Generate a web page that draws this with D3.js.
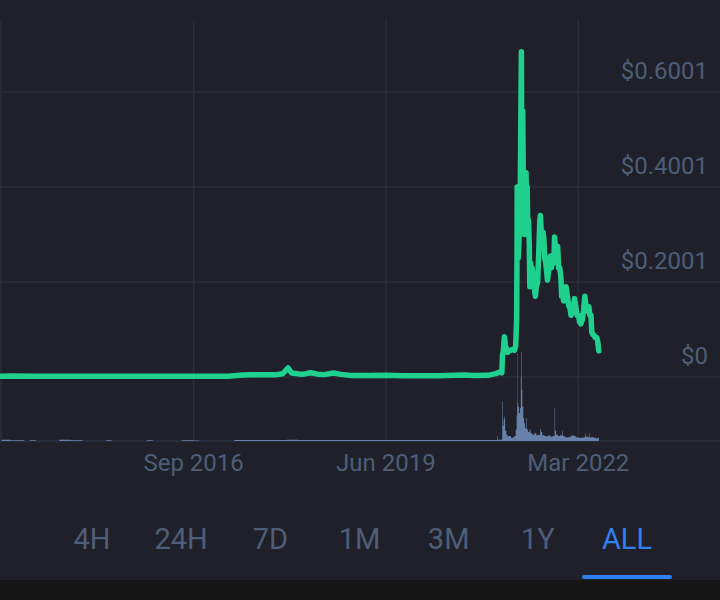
<!DOCTYPE html>
<html>
<head>
<meta charset="utf-8">
<script src="https://cdn.jsdelivr.net/npm/d3@7"></script>
<style>
  body { margin: 0; background: #1f2029; }
  svg { display: block; font-family: Roboto, "Noto Sans", sans-serif; }
</style>
</head>
<body>
<svg></svg>
<script>
		// price history (USD) and traded volume (B USD)
		var priceDates = ["2013-11-26", "2014-02-01", "2014-06-01", "2014-12-01", "2015-06-01", "2015-12-01",
		                  "2016-06-01", "2016-12-01", "2017-03-01", "2017-05-15", "2017-07-01", "2017-09-01",
		                  "2017-11-01", "2017-12-10", "2018-01-07", "2018-01-25", "2018-02-15", "2018-03-10",
		                  "2018-04-05", "2018-05-05", "2018-06-10", "2018-07-15", "2018-09-01", "2018-10-10",
		                  "2018-12-01", "2019-03-01", "2019-06-01", "2019-09-01", "2019-12-01", "2020-03-01",
		                  "2020-07-10", "2020-09-01", "2020-11-15", "2020-12-25", "2021-01-10", "2021-01-26",
		                  "2021-01-29", "2021-02-03", "2021-02-08", "2021-02-14", "2021-02-25", "2021-03-10",
		                  "2021-03-22", "2021-04-01", "2021-04-08", "2021-04-13", "2021-04-15", "2021-04-16",
		                  "2021-04-17", "2021-04-18", "2021-04-21", "2021-04-24", "2021-04-28", "2021-05-02",
		                  "2021-05-05", "2021-05-08", "2021-05-10", "2021-05-12", "2021-05-15", "2021-05-19",
		                  "2021-05-21", "2021-05-23", "2021-05-27", "2021-06-01", "2021-06-03", "2021-06-05",
		                  "2021-06-07", "2021-06-10", "2021-06-14", "2021-06-18", "2021-06-21",
		                  "2021-06-25", "2021-06-28", "2021-07-03", "2021-07-08", "2021-07-13", "2021-07-20",
		                  "2021-07-25", "2021-08-01", "2021-08-07", "2021-08-12", "2021-08-15", "2021-08-20",
		                  "2021-08-24", "2021-08-29", "2021-09-02", "2021-09-07", "2021-09-12", "2021-09-17",
		                  "2021-09-21", "2021-09-26", "2021-10-01", "2021-10-06", "2021-10-12", "2021-10-18",
		                  "2021-10-24", "2021-10-28", "2021-11-02", "2021-11-08", "2021-11-13", "2021-11-18",
		                  "2021-11-24", "2021-11-30", "2021-12-04", "2021-12-09", "2021-12-14", "2021-12-20",
		                  "2021-12-27", "2022-01-03", "2022-01-10", "2022-01-16", "2022-01-22", "2022-01-28",
		                  "2022-02-04", "2022-02-09", "2022-02-15", "2022-02-22", "2022-03-01", "2022-03-08",
		                  "2022-03-14", "2022-03-22", "2022-03-28", "2022-04-04", "2022-04-10", "2022-04-16",
		                  "2022-04-21", "2022-04-25", "2022-04-30", "2022-05-06", "2022-05-10", "2022-05-15",
		                  "2022-05-22", "2022-05-28", "2022-06-05", "2022-06-10", "2022-06-14", "2022-06-16"];
		var priceValues = [0.0015, 0.0020, 0.0018, 0.0016, 0.0015, 0.0016,
		                   0.0016, 0.0017, 0.0018, 0.0040, 0.0045, 0.0050,
		                   0.0045, 0.0070, 0.0190, 0.0085, 0.0075, 0.0060,
		                   0.0065, 0.0090, 0.0060, 0.0050, 0.0085, 0.0055,
		                   0.0030, 0.0030, 0.0035, 0.0028, 0.0025, 0.0025,
		                   0.0040, 0.0030, 0.0035, 0.0070, 0.0100, 0.0090,
		                   0.0450, 0.0550, 0.0850, 0.0650, 0.0520, 0.0560,
		                   0.0580, 0.0560, 0.0650, 0.1200, 0.2500, 0.4000,
		                   0.3600, 0.2800, 0.2500, 0.2700, 0.3200, 0.3800,
		                   0.5500, 0.6850, 0.4200, 0.5000, 0.5600, 0.3600,
		                   0.4000, 0.3000, 0.3300, 0.4300, 0.3900, 0.3600,
		                   0.4000, 0.3200, 0.3300, 0.2800, 0.1900,
		                   0.2400, 0.2000, 0.2300, 0.2100, 0.1900, 0.1700,
		                   0.1900, 0.2000, 0.2700, 0.3300, 0.3400, 0.3000,
		                   0.2800, 0.3050, 0.2900, 0.2500, 0.2400, 0.2200,
		                   0.2040, 0.2200, 0.2300, 0.2550, 0.2300, 0.2500,
		                   0.2400, 0.2950, 0.2700, 0.2700, 0.2750, 0.2300,
		                   0.2300, 0.2100, 0.1700, 0.1800, 0.1600, 0.1700,
		                   0.1900, 0.1700, 0.1500, 0.1450, 0.1300, 0.1400,
		                   0.1500, 0.1650, 0.1500, 0.1300, 0.1300, 0.1150,
		                   0.1120, 0.1200, 0.1400, 0.1700, 0.1500, 0.1400,
		                   0.1380, 0.1480, 0.1300, 0.1300, 0.0950, 0.0900,
		                   0.0880, 0.0830, 0.0830, 0.0750, 0.0600, 0.0550];

		var volumeDates = ["2013-12-05", "2014-01-20", "2014-04-01", "2014-05-01", "2014-06-01", "2014-10-01",
		                   "2014-12-01", "2015-02-01", "2015-06-01", "2015-07-01", "2016-01-01", "2016-02-01",
		                   "2016-07-01", "2016-09-01", "2016-10-01", "2017-04-01", "2017-09-01", "2018-01-01",
		                   "2018-03-01", "2018-09-01", "2019-03-01", "2019-09-01", "2020-03-01", "2020-09-01",
		                   "2020-12-20", "2021-01-02", "2021-01-05", "2021-01-20", "2021-01-28", "2021-01-31",
		                   "2021-02-04", "2021-02-08", "2021-02-12", "2021-02-18", "2021-02-25", "2021-03-05",
		                   "2021-03-15", "2021-03-25", "2021-04-01", "2021-04-08", "2021-04-13", "2021-04-16",
		                   "2021-04-18", "2021-04-21", "2021-04-26", "2021-05-01", "2021-05-05", "2021-05-07",
		                   "2021-05-10", "2021-05-13", "2021-05-18", "2021-05-22", "2021-05-27", "2021-06-02",
		                   "2021-06-05", "2021-06-12", "2021-06-20", "2021-06-25", "2021-07-05", "2021-07-15",
		                   "2021-07-25", "2021-08-05", "2021-08-14", "2021-08-18", "2021-08-25", "2021-09-05",
		                   "2021-09-15", "2021-09-25", "2021-10-05", "2021-10-18", "2021-10-28", "2021-10-31",
		                   "2021-11-05", "2021-11-15", "2021-11-25", "2021-12-06", "2021-12-09", "2021-12-20",
		                   "2022-01-01", "2022-01-15", "2022-01-25", "2022-02-05", "2022-02-15", "2022-03-01",
		                   "2022-03-15", "2022-03-28", "2022-04-06", "2022-04-09", "2022-04-18", "2022-04-26",
		                   "2022-04-29", "2022-05-10", "2022-05-20", "2022-06-01", "2022-06-10", "2022-06-17"];
		var volumeValues = [0.9, 0.6, 0, 0.5, 0, 0.9,
		                    0.6, 0, 0.5, 0, 0.5, 0,
		                    0.6, 0.4, 0, 0.7, 0.8, 0.9,
		                    0.7, 0.7, 0.7, 0.7, 0.7, 0.8,
		                    0.8, 4, 1, 1.2, 31, 12,
		                    17, 19, 8, 5, 3.5, 4,
		                    2.5, 3, 4, 9, 20, 69,
		                    30, 27, 22, 26, 50, 70,
		                    40, 27, 18, 14, 10, 18,
		                    9, 7, 9, 6, 5, 6,
		                    4.5, 5, 9.5, 7, 4.5, 4,
		                    3.5, 4.5, 3.5, 4, 26, 8,
		                    5, 4, 4.5, 8, 4, 3,
		                    3, 3.5, 4.5, 4, 3, 2.5,
		                    2.5, 3, 6, 3.5, 3, 6,
		                    3, 3, 2.5, 2, 2.5, 0];

		var yTickValues = [0, 0.2001, 0.4001, 0.6001];
		var yTickLabels = ["$0", "$0.2001", "$0.4001", "$0.6001"];
		var xTickDates = ["2013-12-01", "2016-09-01", "2019-06-01", "2022-03-01"];
		var xTickLabels = ["", "Sep 2016", "Jun 2019", "Mar 2022"];
		var rangeButtons = ["4H", "24H", "7D", "1M", "3M", "1Y", "ALL"];
		var activeButton = "ALL";

		var svgWidth = 720, svgHeight = 600;
		var chartTop = 20, priceBottom = 377, volumeBottom = 441;
		var parseDate = d3.timeParse("%Y-%m-%d");

		var prices = priceDates.map(function(d, i) {
		    return { date: parseDate(d), value: priceValues[i] };
		});
		var volumes = volumeDates.map(function(d, i) {
		    return { date: parseDate(d), value: volumeValues[i] };
		});

		// creating the drawing area
		var svg = d3.select('svg')
		    .attr("width", svgWidth)
		    .attr("height", svgHeight);

		svg.append("rect")
		    .attr("width", svgWidth)
		    .attr("height", svgHeight)
		    .attr("fill", "#1f2029");

		// scales
		var xScale = d3.scaleTime()
		    .domain([parseDate("2013-11-26"), parseDate("2024-03-09")])
		    .range([0, svgWidth]);

		var yScale = d3.scaleLinear()
		    .domain([0, 0.6001])
		    .range([priceBottom, 92]);

		var volumeScale = d3.scaleLinear()
		    .domain([0, 70])
		    .range([volumeBottom, 352]);

		// grid lines
		svg.selectAll(".vgrid")
		    .data(xTickDates)
		    .enter()
		    .append("line")
		    .attr("class", "vgrid")
		    .attr("x1", function(d) { return xScale(parseDate(d)); })
		    .attr("x2", function(d) { return xScale(parseDate(d)); })
		    .attr("y1", chartTop)
		    .attr("y2", volumeBottom)
		    .attr("stroke", "#2a2e3a")
		    .attr("stroke-width", 1.5);

		svg.selectAll(".hgrid")
		    .data(yTickValues)
		    .enter()
		    .append("line")
		    .attr("class", "hgrid")
		    .attr("x1", 0)
		    .attr("x2", svgWidth)
		    .attr("y1", function(d) { return yScale(d); })
		    .attr("y2", function(d) { return yScale(d); })
		    .attr("stroke", "#2a2e3a")
		    .attr("stroke-width", 1.5);

		svg.append("line")
		    .attr("x1", 0)
		    .attr("x2", svgWidth)
		    .attr("y1", volumeBottom)
		    .attr("y2", volumeBottom)
		    .attr("stroke", "#2c313e")
		    .attr("stroke-width", 1.5);

		// volume
		var volumeArea = d3.area()
		    .x(function(d) { return xScale(d.date); })
		    .y0(volumeBottom)
		    .y1(function(d) { return volumeScale(d.value); })
		    .curve(d3.curveStepAfter);

		svg.append("path")
		    .datum(volumes)
		    .attr("d", volumeArea)
		    .attr("fill", "#6781ab");

		// price line
		var priceLine = d3.line()
		    .x(function(d) { return xScale(d.date); })
		    .y(function(d) { return yScale(d.value); });

		svg.append("path")
		    .datum(prices)
		    .attr("d", priceLine)
		    .attr("fill", "none")
		    .attr("stroke", "#20d08e")
		    .attr("stroke-width", 5.5)
		    .attr("stroke-linejoin", "round")
		    .attr("stroke-linecap", "round");

		// axis labels
		svg.selectAll(".ylabel")
		    .data(yTickValues)
		    .enter()
		    .append("text")
		    .attr("class", "ylabel")
		    .text(function(d, i) { return yTickLabels[i]; })
		    .attr("x", 708)
		    .attr("y", function(d) { return yScale(d) - 13; })
		    .attr("text-anchor", "end")
		    .attr("font-size", 24)
		    .attr("fill", "#4e5e78");

		svg.selectAll(".xlabel")
		    .data(xTickDates)
		    .enter()
		    .append("text")
		    .attr("class", "xlabel")
		    .text(function(d, i) { return xTickLabels[i]; })
		    .attr("x", function(d) { return xScale(parseDate(d)); })
		    .attr("y", 471)
		    .attr("text-anchor", "middle")
		    .attr("font-size", 24)
		    .attr("fill", "#4e5e78");

		// range selector
		var buttonScale = d3.scalePoint()
		    .domain(rangeButtons)
		    .range([92, 627]);

		svg.selectAll(".button")
		    .data(rangeButtons)
		    .enter()
		    .append("text")
		    .attr("class", "button")
		    .text(function(d) { return d; })
		    .attr("x", function(d) { return buttonScale(d); })
		    .attr("y", 549)
		    .attr("text-anchor", "middle")
		    .attr("font-size", 29)
		    .attr("fill", function(d) { return d == activeButton ? "#2f80ed" : "#4e5e78"; });

		svg.append("rect")
		    .attr("x", buttonScale(activeButton) - 45)
		    .attr("y", 575)
		    .attr("width", 90)
		    .attr("height", 4)
		    .attr("rx", 2)
		    .attr("fill", "#2f80ed");

		svg.append("rect")
		    .attr("x", 0)
		    .attr("y", 580)
		    .attr("width", svgWidth)
		    .attr("height", svgHeight - 580)
		    .attr("fill", "#161616");
</script>
</body>
</html>
